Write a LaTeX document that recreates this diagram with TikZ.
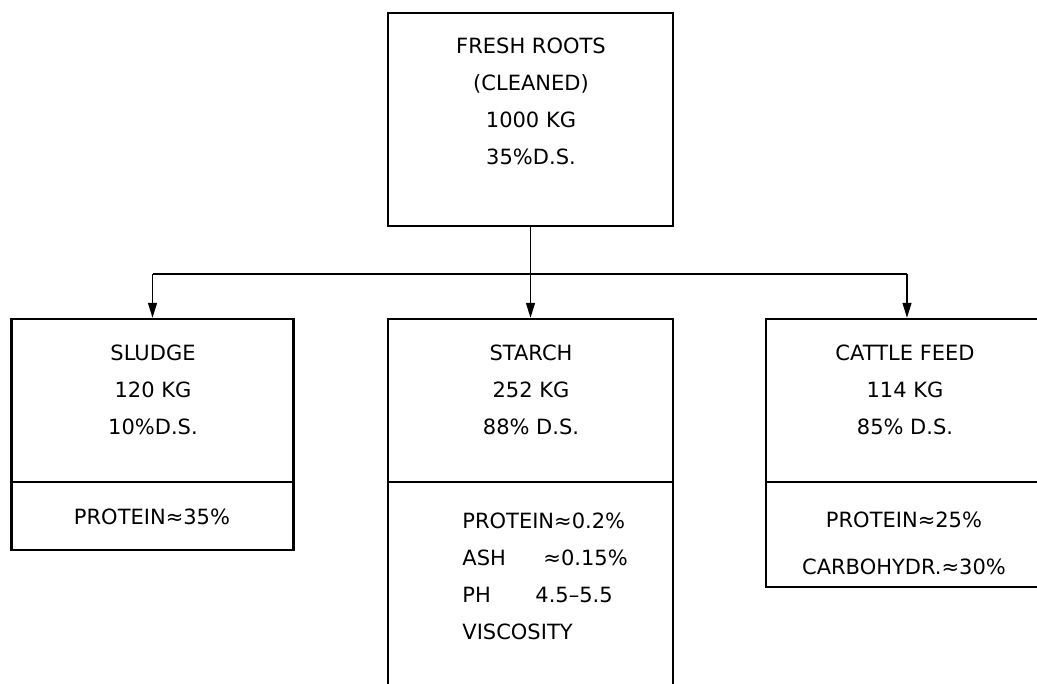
\documentclass[tikz,border=0pt]{standalone}
\usepackage{fontspec}
\setmainfont{DejaVu Sans}
\usetikzlibrary{arrows.meta}

\begin{document}
\begin{tikzpicture}[
    x=0.5pt, y=-0.5pt,
    every node/.style={font=\fontsize{10.5}{18.5}\selectfont},
    source/.style={rectangle, draw, line width=1.2pt, minimum width=142.5pt, minimum height=106.5pt, inner sep=0pt},
    product/.style={rectangle, draw, line width=1.2pt, minimum width=141pt, inner sep=0pt},
    lines/.style={align=center, inner sep=0pt},
    split line/.style={draw, line width=1.2pt},
    flow/.style={draw, line width=0.7pt},
    >={Triangle[length=7.5pt, width=4.5pt]}
  ]
  \useasboundingbox (0,0) rectangle (1037,684);

  \node[source] (roots) at (530.5,119.5) {};
  \node[lines] (rootstext) at (531,101) {FRESH ROOTS\\(CLEANED)\\1000 KG\\35\%D.S.};

  \node[product, minimum height=115.5pt] (sludge) at (152.5,434.5) {};
  \node[product, minimum width=142.5pt, minimum height=200.5pt] (starch) at (530.5,519.5) {};
  \node[product, minimum height=134pt] (cattle) at (907,453) {};

  \node[lines] (sludgetext) at (153,390) {SLUDGE\\120 KG\\10\%D.S.};
  \node[lines] (sludgeinfo) at (152,517) {PROTEIN≈35\%};
  \node[lines] (starchtext) at (531,390) {STARCH\\252 KG\\88\% D.S.};
  \node[lines, align=left, anchor=west] (starchinfo) at (462,576)
    {PROTEIN≈0.2\%\\\makebox[40.5pt][l]{ASH}≈0.15\%\\\makebox[36.5pt][l]{PH}4.5--5.5\\VISCOSITY};
  \node[lines] (cattletext) at (905,390) {CATTLE FEED\\114 KG\\85\% D.S.};
  \node[lines] (cattleinfo) at (904,543.5) {PROTEIN≈25\%\\[5pt]CARBOHYDR.≈30\%};

  \coordinate (cut) at (0,482);
  \draw[split line] (sludge.west |- cut) -- (sludge.east |- cut);
  \draw[split line] (starch.west |- cut) -- (starch.east |- cut);
  \draw[split line] (cattle.west |- cut) -- (cattle.east |- cut);

  \coordinate (split) at (roots.south |- 0,274);
  \draw[flow] (roots.south) -- (split);
  \draw[flow] (sludge.north |- split) -- (cattle.north |- split);
  \draw[flow, ->] (sludge.north |- split) -- (sludge.north);
  \draw[flow, ->] (split) -- (starch.north);
  \draw[flow, ->] (cattle.north |- split) -- (cattle.north);

\end{tikzpicture}
\end{document}
